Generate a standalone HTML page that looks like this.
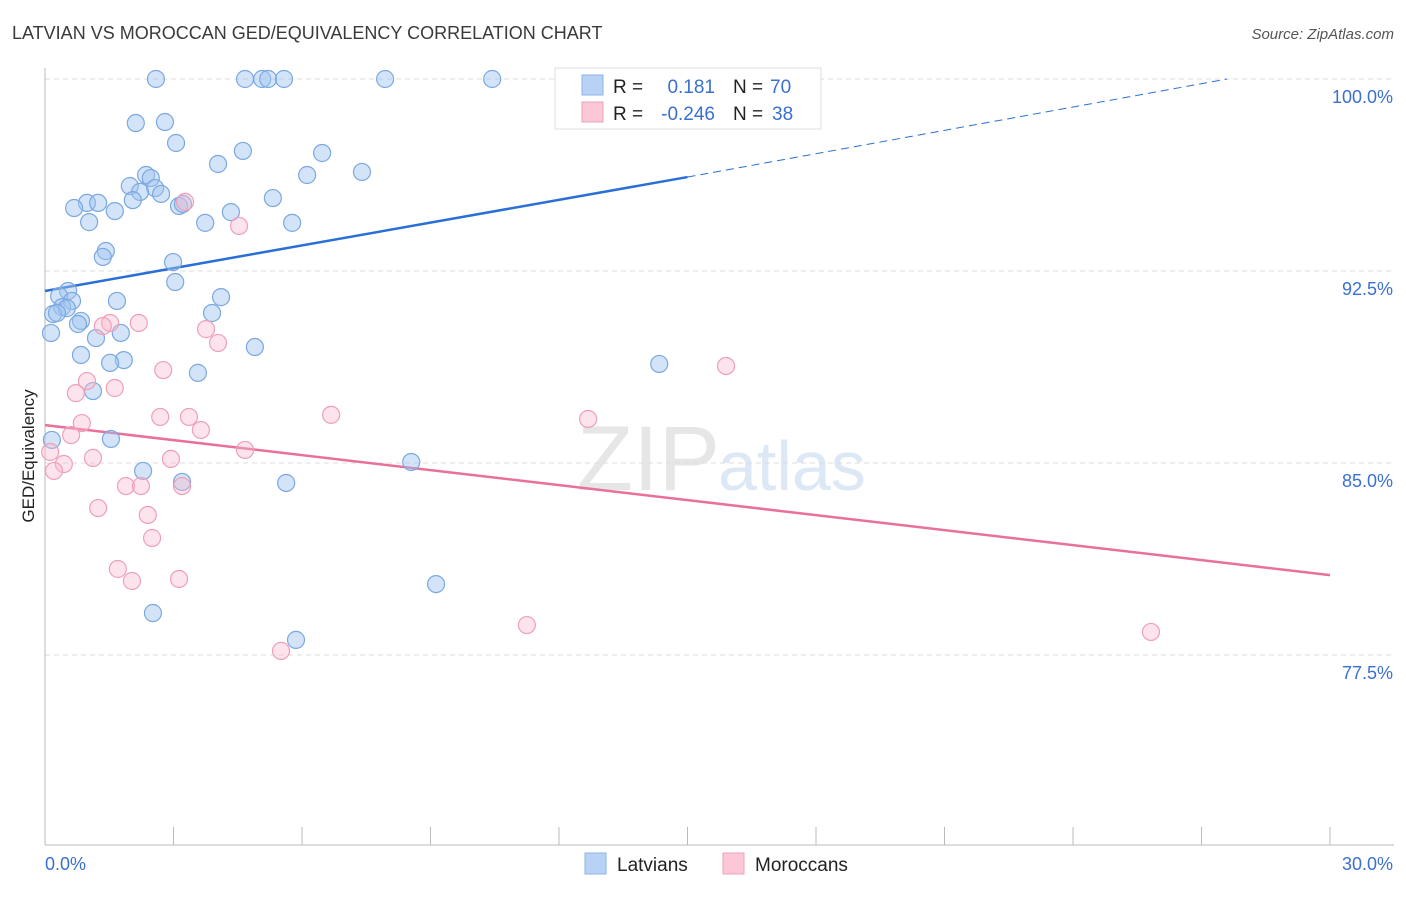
<!DOCTYPE html>
<html><head><meta charset="utf-8"><style>
body{margin:0;background:#fff;font-family:"Liberation Sans",sans-serif;}
svg text{font-family:"Liberation Sans",sans-serif;}
</style></head><body>
<svg id="chart" width="1406" height="892">
<text x="12" y="39" font-size="18" fill="#3a3a3a">LATVIAN VS MOROCCAN GED/EQUIVALENCY CORRELATION CHART</text>
<text x="1394" y="39" font-size="15" fill="#555" font-style="italic" text-anchor="end">Source: ZipAtlas.com</text>
<text x="720" y="490" font-size="92" fill="#e6e6e6" text-anchor="end" font-family="Liberation Serif">ZIP</text>
<text x="718" y="490" font-size="70" fill="#dce8f6">atlas</text>
<g id="grid"></g><g id="axes"></g><g id="lines"></g><g id="pts"></g>
<text transform="translate(34,456) rotate(-90)" font-size="17" fill="#222" text-anchor="middle">GED/Equivalency</text>
<g>
<rect x="555" y="68" width="266" height="61" fill="#fff" stroke="#ddd"/>
<rect x="582" y="75" width="21" height="20" fill="#b8d2f5" stroke="#8ab4e8"/>
<rect x="582" y="102" width="21" height="20" fill="#fcc8d8" stroke="#f0a0b8"/>
<text x="613" y="93" font-size="19" fill="#222">R =</text><text x="715" y="93" font-size="19" fill="#3a70d0" text-anchor="end">0.181</text>
<text x="733" y="93" font-size="19" fill="#222">N =</text><text x="770" y="93" font-size="19" fill="#3a70d0">70</text>
<text x="613" y="120" font-size="19" fill="#222">R =</text><text x="715" y="120" font-size="19" fill="#3a70d0" text-anchor="end">-0.246</text>
<text x="733" y="120" font-size="19" fill="#222">N =</text><text x="772" y="120" font-size="19" fill="#3a70d0">38</text>
</g>
<g>
<rect x="585" y="853" width="21" height="21" fill="#b8d2f5" stroke="#8ab4e8"/>
<text x="617" y="871" font-size="19" fill="#222">Latvians</text>
<rect x="723" y="853" width="21" height="21" fill="#fcc8d8" stroke="#f0a0b8"/>
<text x="755" y="871" font-size="19" fill="#222">Moroccans</text>
</g>
</svg>
<script>
const blueX=[2.59,4.67,5.07,5.21,5.58,7.94,10.44,12.96,2.12,2.80,3.06,4.04,4.62,6.47,7.40,2.36,2.47,6.12,2.57,1.98,2.22,2.71,2.05,0.98,1.24,0.68,1.63,3.13,3.22,5.32,4.34,1.03,3.74,5.77,1.42,1.35,2.99,3.04,0.54,0.33,0.63,1.68,4.11,0.40,0.51,0.19,0.28,3.90,0.84,0.77,0.14,1.77,1.19,0.84,4.90,1.84,1.52,3.57,1.12,14.34,1.54,2.29,3.20,5.63,8.55,9.13,2.52,5.86,0.16];
const blueY=[100,100,100,100,100,100,100,100,98.28,98.32,97.50,96.68,97.19,97.11,96.37,96.25,96.13,96.25,95.74,95.82,95.59,95.51,95.27,95.16,95.16,94.96,94.84,95.04,95.12,95.35,94.80,94.41,94.38,94.38,93.28,93.05,92.85,92.07,91.72,91.52,91.33,91.33,91.48,91.09,91.05,90.82,90.86,90.86,90.55,90.43,90.08,90.08,89.88,89.22,89.53,89.02,88.91,88.52,87.81,88.87,85.94,84.69,84.26,84.22,85.04,80.27,79.14,78.09,85.90];
const pinkX=[3.27,4.53,3.76,4.04,2.19,1.52,1.35,2.76,0.98,1.63,0.72,15.90,0.86,2.69,3.36,6.68,3.64,0.61,4.67,1.12,2.94,0.44,0.21,1.89,2.24,3.20,1.24,2.40,2.50,1.70,2.03,3.13,11.25,25.82,5.51,12.68,0.12];
const pinkY=[95.20,94.26,90.23,89.69,90.47,90.47,90.35,88.63,88.20,87.93,87.73,88.79,86.56,86.80,86.80,86.88,86.29,86.09,85.51,85.20,85.16,84.96,84.69,84.10,84.10,84.10,83.24,82.97,82.07,80.86,80.39,80.47,78.67,78.40,77.66,86.72,85.43];
const yTicks=[100,92.5,85,77.5];
const yTickLabels=["100.0%","92.5%","85.0%","77.5%"];
const blueTrend=[[0,91.72],[15,96.17],[27.6,100]];
const pinkTrend=[[0,86.48],[30,80.62]];
const NS="http://www.w3.org/2000/svg";
const sx=v=>45+v*1285/30, sy=v=>79+(100-v)*25.6;
function mk(p,t,a){const e=document.createElementNS(NS,t);for(const k in a)e.setAttribute(k,a[k]);document.getElementById(p).appendChild(e);return e;}
yTicks.forEach((t,i)=>{
 const l=mk('grid','line',{x1:45,x2:1394,y1:sy(t),y2:sy(t),stroke:'#ddd','stroke-dasharray':'5,4'});
 
 
 const tx=mk('grid','text',{x:1393,y:sy(t)+24,'font-size':18,fill:'#3a70d0','text-anchor':'end'});tx.textContent=yTickLabels[i];
 
 
});
const ax=mk('axes','line',{x1:45,x2:45,y1:68,y2:845,stroke:'#bbb'});


const bx=mk('axes','line',{x1:45,x2:1394,y1:845,y2:845,stroke:'#bbb'});


for(let i=1;i<=10;i++){const t=mk('axes','line',{x1:sx(i*3),x2:sx(i*3),y1:827,y2:845,stroke:'#bbb'});
 
 }
[["0.0%",45,'start'],["30.0%",1393,'end']].forEach(([s,x,a])=>{const t=mk('axes','text',{x:x,y:870,'font-size':18,fill:'#3a70d0','text-anchor':a});t.textContent=s;
 
 });
function pts(X,Y,fill,st,name){X.forEach((x,i)=>{const c=mk('pts','circle',{cx:sx(x),cy:sy(Y[i]),r:8.5,fill:fill,stroke:st,'stroke-width':1.2});
 
 });}
pts(blueX,blueY,'rgba(160,196,240,0.45)','#7aa8e0','latvian-point');
pts(pinkX,pinkY,'rgba(250,185,205,0.4)','#eea0b8','moroccan-point');
const b1=mk('lines','line',{x1:sx(blueTrend[0][0]),y1:sy(blueTrend[0][1]),x2:sx(blueTrend[1][0]),y2:sy(blueTrend[1][1]),stroke:'#2a6fd6','stroke-width':2.5});


const b2=mk('lines','line',{x1:sx(blueTrend[1][0]),y1:sy(blueTrend[1][1]),x2:sx(blueTrend[2][0]),y2:sy(blueTrend[2][1]),stroke:'#2a6fd6','stroke-width':1,'stroke-dasharray':'8,5'});


const p1=mk('lines','line',{x1:sx(pinkTrend[0][0]),y1:sy(pinkTrend[0][1]),x2:sx(pinkTrend[1][0]),y2:sy(pinkTrend[1][1]),stroke:'#e8709a','stroke-width':2.5});


</script>
</body></html>
